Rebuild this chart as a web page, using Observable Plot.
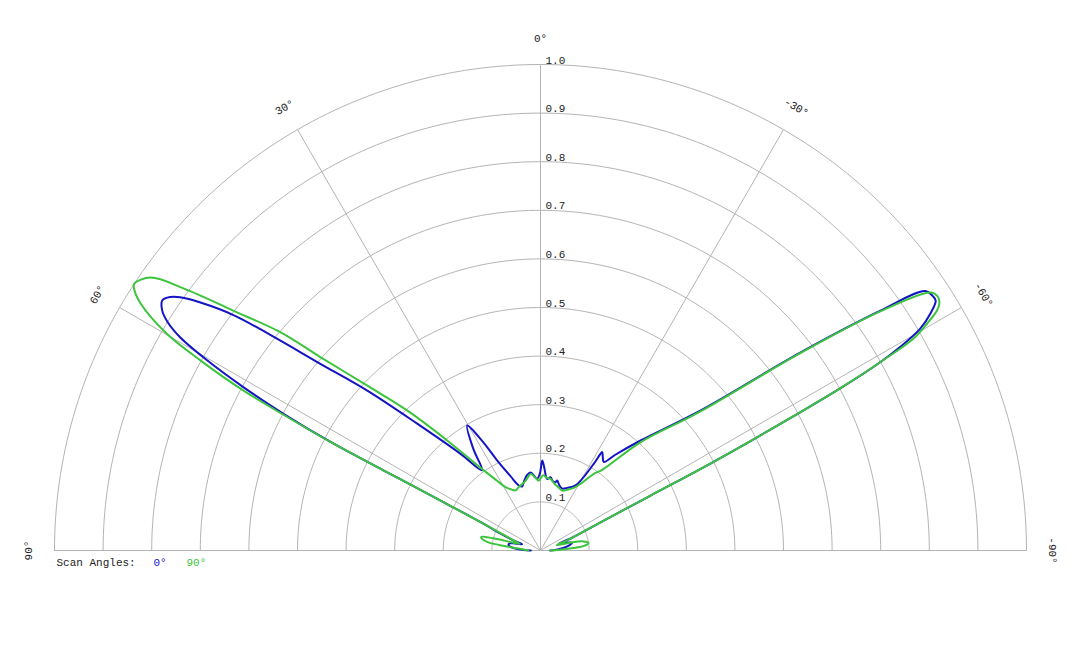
<!DOCTYPE html>
<html><head><meta charset="utf-8">
<script src="https://cdn.jsdelivr.net/npm/d3@7"></script>
<script src="https://cdn.jsdelivr.net/npm/@observablehq/plot@0.6"></script>
<style>
body{margin:0;background:#fff;}
#chart{width:1080px;height:648px;}
</style>
</head><body><div id="chart"></div>
<script>
// ---- data ----
const ringValues = [0.1,0.2,0.3,0.4,0.5,0.6,0.7,0.8,0.9,1.0];
const spokeAngles = [-60,-30,0,30,60];
const angleLabels = [90,60,30,0,-30,-60,-90];
const seriesNames = ["0°","90°"];
const seriesColors = ["#1414c4","#3cc43c"];

// scan 0° (blue): pattern angle (deg, + to the left) and normalised value
const blueAngles = [90,88,86,83,80,77,75,73,71,69.5,67,64.8,63.4,62.96,62.7,62.0,61.2,60.3,59.4,58.5,57.6,56.5,55.6,54.9,53.9,52.5,51.3,49.7,47.3,44.2,39.6,36.1,33.5,30.4,28,25.7,22,18.4,16,13,10,7.3,5.1,2.6,0.5,-1.1,-2.5,-4,-5.3,-7.8,-10,-12.4,-13.4,-16,-19.4,-23,-28.3,-31.6,-32.1,-33.5,-35.6,-38,-42.3,-48.8,-52.7,-54.8,-56,-57,-57.7,-58.7,-59.7,-60.5,-61,-61.6,-62,-62.5,-63,-63.5,-65,-68,-70,-73,-76,-80,-84,-88,-90];
const blueValues = [0.02,0.035,0.05,0.062,0.067,0.065,0.058,0.045,0.04,0.06,0.09,0.129,0.245,0.362,0.479,0.598,0.697,0.789,0.861,0.900,0.922,0.933,0.923,0.906,0.866,0.795,0.703,0.594,0.485,0.364,0.258,0.204,0.25,0.298,0.255,0.206,0.165,0.141,0.137,0.148,0.158,0.162,0.155,0.148,0.158,0.185,0.172,0.155,0.148,0.152,0.145,0.144,0.148,0.14,0.135,0.14,0.152,0.209,0.239,0.232,0.224,0.25,0.306,0.437,0.672,0.856,0.955,0.962,0.962,0.939,0.905,0.85,0.8,0.7,0.6,0.48,0.37,0.25,0.13,0.07,0.04,0.055,0.067,0.06,0.045,0.03,0.02];

// scan 90° (green)
const greenAngles = [90,88,85,83,81,79,77,75.5,73.7,72,69.5,64.8,63.4,62.96,62.7,62.2,61.7,60.8,59.9,58.3,57.2,56.7,55.0,53.7,52.0,50.0,48.7,46.4,43.6,40.3,35.3,32,28.9,25,22.6,18.9,13,9,7.4,4,1.4,-2,-5,-8,-12,-16,-19.9,-24,-28,-31,-34.8,-37.5,-42.7,-48.8,-52.7,-54.8,-56.5,-57.3,-58.1,-58.8,-59.6,-60.4,-61,-61.6,-62,-62.5,-63,-63.5,-65,-69,-72,-75,-78,-81,-84,-87,-90];
const greenValues = [0.025,0.03,0.045,0.075,0.11,0.122,0.125,0.10,0.055,0.045,0.059,0.129,0.245,0.362,0.479,0.589,0.694,0.801,0.888,0.967,0.995,1.0,0.979,0.910,0.801,0.699,0.603,0.492,0.398,0.297,0.202,0.17,0.149,0.138,0.134,0.138,0.145,0.155,0.159,0.15,0.144,0.155,0.15,0.149,0.14,0.135,0.131,0.137,0.146,0.16,0.192,0.21,0.303,0.43,0.665,0.85,0.962,0.970,0.967,0.954,0.922,0.883,0.8,0.7,0.6,0.48,0.37,0.25,0.13,0.06,0.035,0.06,0.09,0.1,0.09,0.05,0.02];

// ---- helpers ----
const rad = d => d * Math.PI / 180;
const px = (a, r) => -r * Math.sin(rad(a));
const py = (a, r) => r * Math.cos(rad(a));

const series = [
  ...blueAngles.map((a, i) => ({series: seriesNames[0], angle: a, value: blueValues[i]})),
  ...greenAngles.map((a, i) => ({series: seriesNames[1], angle: a, value: greenValues[i]}))
];
const ringData = ringValues.flatMap(r => d3.range(-90, 90.001, 1).map(a => ({r, a})));

const grid = "#b4b4b4";
const chart = Plot.plot({
  width: 1080, height: 648,
  marginLeft: 54, marginRight: 54, marginTop: 64, marginBottom: 98,
  x: {domain: [-1, 1], axis: null},
  y: {domain: [0, 1], axis: null},
  color: {domain: seriesNames, range: seriesColors},
  style: {fontFamily: "'Liberation Mono', 'Courier New', monospace", fontSize: "11px", background: "#fff"},
  marks: [
    Plot.line(ringData, {x: d => px(d.a, d.r), y: d => py(d.a, d.r), z: "r", stroke: grid, strokeWidth: 1}),
    Plot.ruleY([0], {stroke: grid, strokeWidth: 1}),
    Plot.link(spokeAngles, {x1: 0, y1: 0, x2: a => px(a, 1), y2: a => py(a, 1), stroke: grid, strokeWidth: 1}),
    Plot.text(ringValues, {x: 0, y: d => d, text: d => d.toFixed(1), textAnchor: "start", lineAnchor: "bottom", dx: 5, dy: -1, fill: "#222"}),
    Plot.text(angleLabels, {x: a => px(a, 1.053), y: a => py(a, 1.053), text: a => `${a}°`, rotate: a => -a, textAnchor: "middle", lineAnchor: "middle", fill: "#222"}),
    Plot.line(series, {x: d => px(d.angle, d.value), y: d => py(d.angle, d.value), z: "series", stroke: "series", strokeWidth: 2, curve: "catmull-rom"}),
    Plot.text(["Scan Angles:"], {frameAnchor: "bottom-left", dx: 2, dy: 12, textAnchor: "start", lineAnchor: "middle", fill: "#222"}),
    Plot.text([seriesNames[0]], {frameAnchor: "bottom-left", dx: 99, dy: 12, textAnchor: "start", lineAnchor: "middle", fill: seriesColors[0]}),
    Plot.text([seriesNames[1]], {frameAnchor: "bottom-left", dx: 132, dy: 12, textAnchor: "start", lineAnchor: "middle", fill: seriesColors[1]})
  ]
});
document.getElementById("chart").appendChild(chart);
</script>
</body></html>
